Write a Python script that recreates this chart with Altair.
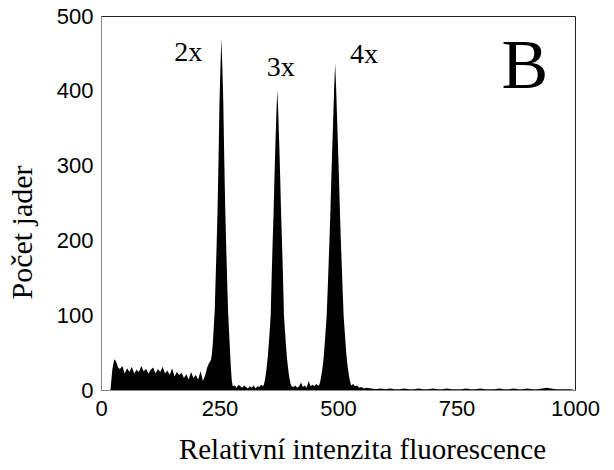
import altair as alt
import pandas as pd

# Histogram: relative fluorescence intensity (x) vs. number of nuclei (y)
intensity = [
    0, 5, 10, 15, 20, 24, 28, 32, 36, 40, 45, 50, 55, 60, 65, 70, 75, 80, 85, 90,
    95, 100, 105, 110, 115, 120, 125, 130, 135, 140, 145, 150, 155, 160, 165, 170,
    175, 180, 185, 190, 195, 200, 205, 210, 215, 220,
    # 2x peak
    224, 226, 228, 230, 232, 234, 236, 238, 240, 242, 244, 246, 248, 250, 252, 254,
    256, 258, 260, 262, 264, 266, 268, 270, 272, 274, 276, 278,
    # valley
    282, 286, 290, 294, 298, 302, 306, 310, 314, 318, 322, 326, 330, 334, 338,
    # 3x peak
    342, 344, 346, 348, 350, 352, 354, 356, 358, 360, 362, 364, 366, 368, 370, 372,
    374, 376, 378, 380, 382, 384, 386, 388, 390, 392, 394, 396, 398, 400, 402,
    # valley
    406, 410, 414, 418, 422, 426, 430, 434, 438, 442, 446, 450, 454, 458,
    # 4x peak
    460, 462, 464, 466, 468, 470, 472, 474, 476, 478, 480, 482, 484, 486, 488, 490,
    492, 494, 496, 498, 500, 502, 504, 506, 508, 510, 512, 514, 516, 518, 520, 522,
    524, 526, 528,
    # tail
    532, 536, 540, 545, 550, 555, 560, 570, 580, 590, 600, 610, 620, 630, 640, 650,
    660, 670, 680, 690, 700, 710, 720, 730, 740, 750, 760, 770, 780, 790, 800, 810,
    820, 830, 840, 850, 860, 870, 880, 890, 900, 910, 920, 930, 940, 950, 960, 970,
    980, 990, 1000,
]

nuclei = [
    0, 0, 0, 0, 0, 28, 41, 38, 30, 28, 32, 22, 29, 24, 31, 22, 27, 24, 32, 25,
    28, 22, 27, 30, 22, 28, 24, 31, 22, 26, 20, 29, 18, 24, 20, 23,
    16, 21, 14, 24, 16, 20, 14, 25, 12, 20,
    # 2x peak
    30, 33, 36, 38, 40, 48, 63, 85, 107, 152, 195, 245, 310, 385, 432, 470,
    432, 385, 310, 245, 195, 150, 107, 80, 55, 30, 12, 5,
    # valley
    6, 3, 7, 5, 3, 6, 4, 2, 5, 3, 6, 2, 5, 4, 7,
    # 3x peak
    5, 8, 14, 22, 33, 45, 62, 80, 100, 150, 195, 235, 285, 330, 370, 401,
    370, 330, 285, 235, 195, 150, 100, 80, 62, 45, 33, 22, 14, 8, 5,
    # valley
    4, 6, 3, 5, 10, 4, 6, 3, 12, 5, 7, 5, 8, 6,
    # 4x peak
    6, 10, 16, 24, 33, 45, 62, 80, 98, 130, 165, 200, 240, 285, 325, 365,
    405, 436, 405, 365, 325, 285, 240, 200, 165, 130, 98, 80, 62, 45, 33, 24,
    16, 10, 6,
    # tail
    8, 5, 6, 3, 4, 2, 3, 2, 1, 2, 1, 2, 1, 1, 2, 1,
    1, 2, 1, 1, 2, 1, 1, 2, 1, 1, 1, 2, 1, 1, 2, 1,
    1, 1, 2, 1, 1, 2, 1, 1, 2, 1, 1, 2, 3, 2, 1, 1,
    1, 1, 0,
]

peak_labels = ["2x", "3x", "4x"]
peak_label_x = [184, 379, 555]
peak_label_y = [450, 430, 448]

panel_letter = ["B"]
panel_x = [894]
panel_y = [404]

x_ticks = [0, 250, 500, 750, 1000]
y_ticks = [0, 100, 200, 300, 400, 500]

hist = pd.DataFrame({"x": intensity, "y": nuclei})
labels = pd.DataFrame({"x": peak_label_x, "y": peak_label_y, "t": peak_labels})
letter = pd.DataFrame({"x": panel_x, "y": panel_y, "t": panel_letter})

xscale = alt.Scale(domain=[0, 1000], nice=False)
yscale = alt.Scale(domain=[0, 500], nice=False)

area = alt.Chart(hist).mark_area(color="black", interpolate="linear").encode(
    x=alt.X("x:Q", scale=xscale,
            axis=alt.Axis(values=x_ticks, format="d", title="Relativní intenzita fluorescence",
                          grid=False, ticks=False, labelPadding=8,
                          labelFont="Liberation Sans", labelFontSize=22,
                          labelColor="black", domainColor="#888888",
                          titleFont="Liberation Serif", titleFontSize=29,
                          titleFontWeight="normal", titleColor="black",
                          titleX=261, titleY=68, titleBaseline="alphabetic",
                          titleAlign="center", labelFlush=False)),
    y=alt.Y("y:Q", scale=yscale,
            axis=alt.Axis(values=y_ticks, format="d", title="Počet jader",
                          grid=False, ticks=False, labelPadding=8,
                          labelFont="Liberation Sans", labelFontSize=22,
                          labelColor="black", domainColor="#888888",
                          titleFont="Liberation Serif", titleFontSize=30,
                          titleFontWeight="normal", titleColor="black",
                          titleX=-70, titleY=216, titleBaseline="alphabetic",
                          titleAlign="center", labelFlush=False)),
)

text = alt.Chart(labels).mark_text(
    font="Liberation Serif", fontSize=28, color="black", baseline="middle", align="center"
).encode(x=alt.X("x:Q", scale=xscale), y=alt.Y("y:Q", scale=yscale), text="t:N")

btext = alt.Chart(letter).mark_text(
    font="Liberation Serif", fontSize=70, color="black", baseline="alphabetic", align="center"
).encode(x=alt.X("x:Q", scale=xscale), y=alt.Y("y:Q", scale=yscale), text="t:N")

chart = (area + text + btext).properties(
    width=474, height=374,
    autosize=alt.AutoSizeParams(type="none"),
    padding={"left": 93, "top": 8, "right": 31, "bottom": 72},
).configure_view(stroke="#222222", strokeWidth=1)

chart.save("out.html", embed_options={"renderer": "svg", "actions": False})
